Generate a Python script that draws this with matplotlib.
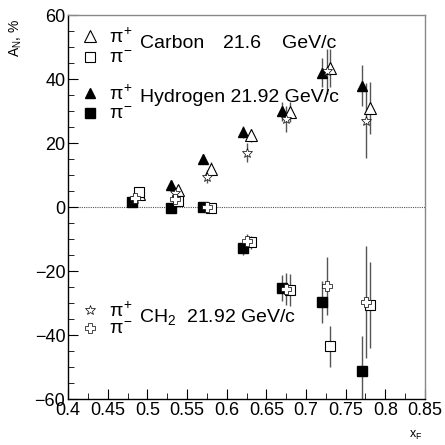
import numpy as np
import matplotlib
matplotlib.use("Agg")
import matplotlib.pyplot as plt

plt.rcParams['font.family'] = ['Liberation Sans', 'DejaVu Sans']
plt.rcParams['mathtext.fontset'] = 'custom'
plt.rcParams['mathtext.rm'] = 'Liberation Sans'
plt.rcParams['mathtext.it'] = 'Liberation Sans'

# Carbon 21.6 GeV/c
xf_c = [0.49, 0.539, 0.58, 0.631, 0.68, 0.73, 0.781]
c_pip = [4.0, 5.5, 12.0, 22.5, 29.7, 43.4, 31.0]
c_pip_err = [1.5, 1.5, 2.0, 2.0, 3.0, 6.0, 8.0]
c_pim = [4.7, 2.0, -0.3, -11.0, -26.0, -43.5, -30.6]
c_pim_err = [1.5, 1.5, 1.5, 2.0, 5.0, 6.5, 13.5]

# Hydrogen 21.92 GeV/c
xf_h = [0.481, 0.53, 0.57, 0.62, 0.67, 0.72, 0.771]
h_pip = [2.0, 7.0, 15.0, 23.5, 30.0, 42.0, 38.0]
h_pip_err = [1.5, 1.5, 1.5, 2.0, 3.0, 4.5, 6.5]
h_pim = [1.5, -0.3, 0.0, -12.9, -25.2, -29.6, -51.2]
h_pim_err = [1.5, 1.5, 1.5, 2.0, 4.0, 6.5, 11.0]

# CH2 21.92 GeV/c
xf_ch2 = [0.485, 0.535, 0.575, 0.626, 0.675, 0.726, 0.776]
ch2_pip = [2.5, 4.5, 9.5, 17.0, 27.5, 42.5, 27.0]
ch2_pip_err = [1.5, 1.5, 2.0, 3.0, 4.0, 7.0, 11.7]
ch2_pim = [3.0, 2.5, 0.0, -10.5, -25.7, -24.7, -29.6]
ch2_pim_err = [1.5, 1.5, 1.5, 2.0, 5.0, 9.0, 17.5]

fig = plt.figure(figsize=(4.45, 4.45), dpi=100)
ax = fig.add_axes([0.153, 0.103, 0.802, 0.863])

ax.axhline(0, color='#555555', lw=0.8, ls=(0, (1, 1)), zorder=1)

eb = dict(ecolor='#555555', elinewidth=1.0, capsize=0, ls='none', zorder=2)
ax.errorbar(xf_h, h_pip, yerr=h_pip_err, marker='^', ms=7, mfc='black', mec='black', **eb)
ax.errorbar(xf_h, h_pim, yerr=h_pim_err, marker='s', ms=7, mfc='black', mec='black', **eb)
ax.errorbar(xf_c, c_pip, yerr=c_pip_err, marker='^', ms=8, mfc='white', mec='black', mew=0.8, **eb)
ax.errorbar(xf_c, c_pim, yerr=c_pim_err, marker='s', ms=7.5, mfc='white', mec='black', mew=0.8, **eb)
ax.errorbar(xf_ch2, ch2_pip, yerr=ch2_pip_err, marker='*', ms=7, mfc='white', mec='black', mew=0.5, **eb)
ax.errorbar(xf_ch2, ch2_pim, yerr=ch2_pim_err, marker='P', ms=6.5, mfc='white', mec='black', mew=0.5, **eb)

# legend-like annotations
fs = 14
ax.plot(0.428, 53.4, marker='^', ms=8, mfc='white', mec='black', mew=0.8)
ax.plot(0.428, 46.9, marker='s', ms=7.5, mfc='white', mec='black', mew=0.8)
ax.text(0.452, 53.0, r'$\pi^{+}$', fontsize=fs, va='center')
ax.text(0.452, 46.5, r'$\pi^{-}$', fontsize=fs, va='center')
ax.text(0.491, 51.2, 'Carbon', fontsize=fs, va='center')
ax.text(0.595, 51.2, '21.6', fontsize=fs, va='center')
ax.text(0.67, 51.2, 'GeV/c', fontsize=fs, va='center')

ax.plot(0.428, 35.6, marker='^', ms=7, mfc='black', mec='black')
ax.plot(0.428, 29.4, marker='s', ms=7, mfc='black', mec='black')
ax.text(0.452, 35.2, r'$\pi^{+}$', fontsize=fs, va='center')
ax.text(0.452, 29.0, r'$\pi^{-}$', fontsize=fs, va='center')
ax.text(0.491, 34.4, 'Hydrogen 21.92 GeV/c', fontsize=fs, va='center')

ax.plot(0.428, -32.0, marker='*', ms=7, mfc='white', mec='black', mew=0.5)
ax.plot(0.428, -37.8, marker='P', ms=6.5, mfc='white', mec='black', mew=0.5)
ax.text(0.452, -32.4, r'$\pi^{+}$', fontsize=fs, va='center')
ax.text(0.452, -38.2, r'$\pi^{-}$', fontsize=fs, va='center')
ax.text(0.489, -34.4, r'CH$_2$  21.92 GeV/c', fontsize=fs, va='center')

ax.set_xlim(0.4, 0.85)
ax.set_ylim(-60, 60)
ax.set_xticks(np.arange(0.4, 0.851, 0.05))
ax.set_xticklabels(['0.4', '0.45', '0.5', '0.55', '0.6', '0.65', '0.7', '0.75', '0.8', '0.85'])
ax.set_xticks(np.arange(0.425, 0.85, 0.05), minor=True)
ax.set_yticks(np.arange(-60, 61, 20))
ax.set_yticklabels(['\u221260', '\u221240', '\u221220', '0', '20', '40', '60'])
ax.set_yticks(np.arange(-55, 60, 5), minor=True)
ax.tick_params(axis='both', which='both', direction='in', top=False, right=False)
ax.tick_params(axis='both', which='major', length=7, labelsize=13, pad=2)
ax.tick_params(axis='both', which='minor', length=4)
for s in ['top', 'right']:
    ax.spines[s].set_color('#888888')
for s in ax.spines.values():
    s.set_linewidth(1.0)

fig.text(0.036, 0.915, r'A$_N$, %', rotation=90, fontsize=10, ha='center', va='center')
fig.text(0.935, 0.022, r'x$_F$', fontsize=9, ha='center', va='center')

fig.savefig('out.png', dpi=100)
